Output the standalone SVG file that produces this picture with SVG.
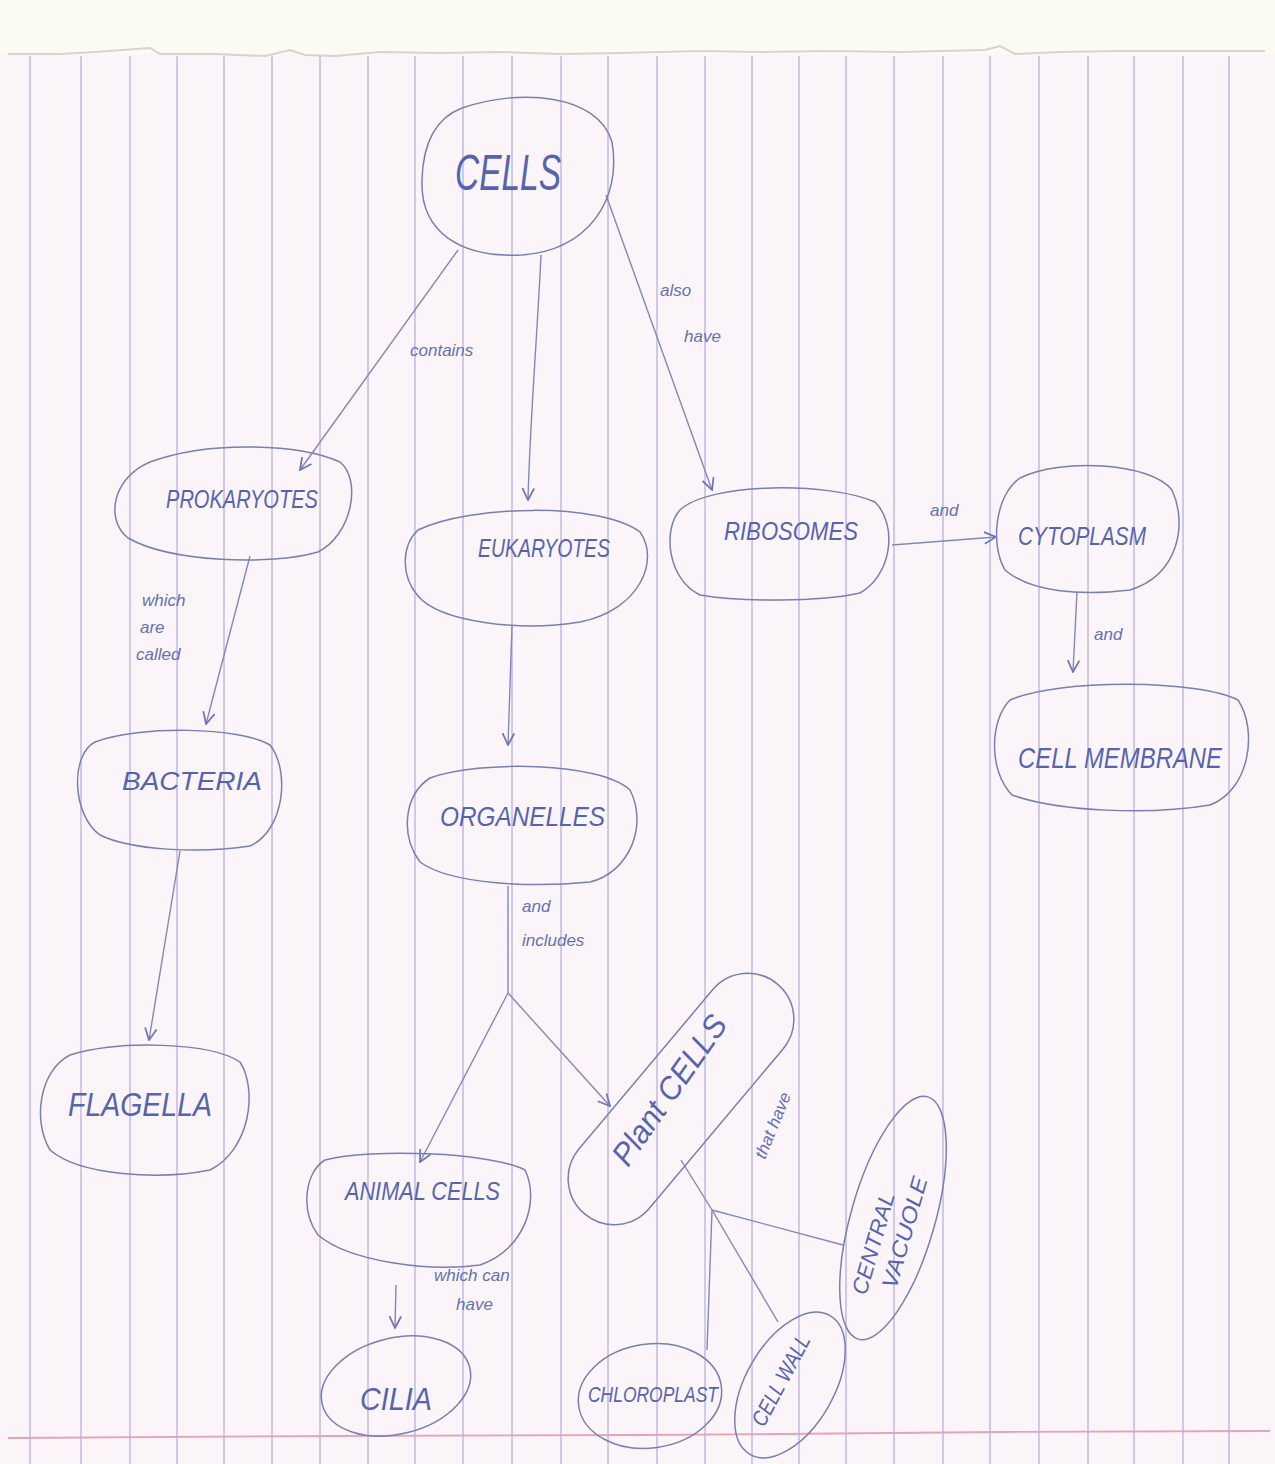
<svg xmlns="http://www.w3.org/2000/svg" width="1275" height="1464" viewBox="0 0 1275 1464">
<defs>
<style>
.paper{fill:#fbf5f9}
.rule{stroke:#bcb5e6;stroke-width:1.4}
.node{fill:none;stroke:#777fb4;stroke-width:1.5}
.lbl{font-family:"Liberation Sans",Arial,sans-serif;font-style:italic;fill:#5664b0;font-size:26px}
.elbl{font-family:"Liberation Sans",Arial,sans-serif;font-style:italic;fill:#6571b4;font-size:17px}
.edge{fill:none;stroke:#8088bd;stroke-width:1.4}
</style>
<marker id="arr" viewBox="0 0 12 12" refX="11" refY="6" markerWidth="14" markerHeight="14" markerUnits="userSpaceOnUse" orient="auto">
<path d="M1,1 L11,6 L1,11" fill="none" stroke="#6d76b4" stroke-width="1.5"/>
</marker>
</defs>

<g id="paper">
<rect width="1275" height="1464" class="paper"/>
<rect width="1275" height="54" fill="#fcfbf1"/>
<path d="M8,54 L60,54 L95,52 L150,48 L160,54 L215,54 L265,56 L290,50 L305,55 L335,56 L380,52 L440,53 L500,52 L560,54 L620,53 L700,51 L760,52 L830,51 L900,52 L985,50 L1000,46 L1015,54 L1060,52 L1120,51 L1200,51 L1265,51" fill="none" stroke="#d7d3cf" stroke-width="2"/>
<g class="rule">
<line x1="30" y1="56" x2="30" y2="1464"/><line x1="81" y1="56" x2="81" y2="1464"/><line x1="130" y1="56" x2="130" y2="1464"/><line x1="177" y1="56" x2="177" y2="1464"/><line x1="224" y1="56" x2="224" y2="1464"/><line x1="272" y1="56" x2="272" y2="1464"/><line x1="320" y1="56" x2="320" y2="1464"/><line x1="368" y1="56" x2="368" y2="1464"/><line x1="415" y1="56" x2="415" y2="1464"/><line x1="463" y1="56" x2="463" y2="1464"/><line x1="512" y1="56" x2="512" y2="1464"/><line x1="561" y1="56" x2="561" y2="1464"/><line x1="608" y1="56" x2="608" y2="1464"/><line x1="657" y1="56" x2="657" y2="1464"/><line x1="705" y1="56" x2="705" y2="1464"/><line x1="752" y1="56" x2="752" y2="1464"/><line x1="799" y1="56" x2="799" y2="1464"/><line x1="846" y1="56" x2="846" y2="1464"/><line x1="894" y1="56" x2="894" y2="1464"/><line x1="943" y1="56" x2="943" y2="1464"/><line x1="990" y1="56" x2="990" y2="1464"/><line x1="1039" y1="56" x2="1039" y2="1464"/><line x1="1088" y1="56" x2="1088" y2="1464"/><line x1="1134" y1="56" x2="1134" y2="1464"/><line x1="1183" y1="56" x2="1183" y2="1464"/><line x1="1229" y1="56" x2="1229" y2="1464"/>
</g>
<path d="M8,1438 L330,1436 L640,1435 L780,1434 L1000,1432 L1270,1431" fill="none" stroke="#e3a3b9" stroke-width="1.8"/>
</g>

<g id="connectors">
<line class="edge" x1="458" y1="250" x2="300" y2="470" marker-end="url(#arr)"/>
<path class="edge" d="M541,255 C537,340 530,420 528,500" marker-end="url(#arr)"/>
<line class="edge" x1="606" y1="195" x2="712" y2="490" marker-end="url(#arr)"/>
<line class="edge" x1="250" y1="556" x2="206" y2="724" marker-end="url(#arr)"/>
<line class="edge" x1="512" y1="626" x2="508" y2="745" marker-end="url(#arr)"/>
<line class="edge" x1="892" y1="545" x2="996" y2="537" marker-end="url(#arr)"/>
<line class="edge" x1="1077" y1="592" x2="1073" y2="672" marker-end="url(#arr)"/>
<line class="edge" x1="180" y1="851" x2="149" y2="1040" marker-end="url(#arr)"/>
<line class="edge" x1="508" y1="886" x2="508" y2="993"/>
<line class="edge" x1="508" y1="993" x2="420" y2="1162" marker-end="url(#arr)"/>
<line class="edge" x1="508" y1="993" x2="610" y2="1106" marker-end="url(#arr)"/>
<line class="edge" x1="396" y1="1285" x2="395" y2="1328" marker-end="url(#arr)"/>
<line class="edge" x1="681" y1="1160" x2="712" y2="1210"/>
<line class="edge" x1="712" y1="1210" x2="707" y2="1350"/>
<line class="edge" x1="712" y1="1210" x2="778" y2="1322"/>
<line class="edge" x1="712" y1="1210" x2="843" y2="1245"/>
<text class="elbl" x="410" y="356">contains</text>
<text class="elbl" x="660" y="296">also</text>
<text class="elbl" x="684" y="342">have</text>
<text class="elbl" x="142" y="606">which</text>
<text class="elbl" x="140" y="633">are</text>
<text class="elbl" x="136" y="660">called</text>
<text class="elbl" x="930" y="516">and</text>
<text class="elbl" x="1094" y="640">and</text>
<text class="elbl" x="522" y="912">and</text>
<text class="elbl" x="522" y="946">includes</text>
<text class="elbl" x="434" y="1281">which can</text>
<text class="elbl" x="456" y="1310">have</text>
<text class="elbl" transform="translate(765,1160) rotate(-68)">that have</text>
</g>

<g id="cells">
<path class="node" d="M462,108 C520,88 598,94 612,142 C622,200 588,250 522,255 C460,258 420,232 422,180 C423,142 436,118 462,108 Z"/>
<text class="lbl" x="455" y="190" style="font-size:50px" textLength="106" lengthAdjust="spacingAndGlyphs">CELLS</text>
</g>
<g id="prokaryotes">
<path class="node" d="M150,462 C210,440 300,444 340,462 C362,480 352,535 318,552 C270,566 170,562 128,538 C105,520 112,478 150,462 Z"/>
<text class="lbl" x="166" y="508" textLength="152" lengthAdjust="spacingAndGlyphs">PROKARYOTES</text>
</g>
<g id="eukaryotes">
<path class="node" d="M418,530 C470,505 600,502 640,532 C660,560 640,610 580,622 C520,632 440,622 418,596 C400,575 402,545 418,530 Z"/>
<text class="lbl" x="478" y="557" textLength="132" lengthAdjust="spacingAndGlyphs">EUKARYOTES</text>
</g>
<g id="ribosomes">
<path class="node" d="M680,510 C710,482 830,482 875,502 C898,525 892,575 860,593 C820,602 740,602 700,595 C668,580 662,530 680,510 Z"/>
<text class="lbl" x="724" y="540" textLength="134" lengthAdjust="spacingAndGlyphs">RIBOSOMES</text>
</g>
<g id="cytoplasm">
<path class="node" d="M1020,478 C1060,458 1150,462 1172,490 C1188,525 1178,575 1130,590 C1080,596 1030,592 1005,570 C990,545 995,495 1020,478 Z"/>
<text class="lbl" x="1018" y="545" textLength="128" lengthAdjust="spacingAndGlyphs">CYTOPLASM</text>
</g>
<g id="cell-membrane">
<path class="node" d="M1010,700 C1060,678 1200,680 1238,700 C1258,730 1250,790 1210,805 C1150,815 1060,812 1012,795 C988,770 990,720 1010,700 Z"/>
<text class="lbl" x="1018" y="768" style="font-size:30px" textLength="204" lengthAdjust="spacingAndGlyphs">CELL MEMBRANE</text>
</g>
<g id="bacteria">
<path class="node" d="M95,742 C140,725 240,727 270,745 C290,770 285,830 250,846 C200,854 130,850 100,835 C72,815 70,755 95,742 Z"/>
<text class="lbl" x="122" y="790" textLength="140" lengthAdjust="spacingAndGlyphs">BACTERIA</text>
</g>
<g id="organelles">
<path class="node" d="M430,778 C480,760 600,762 630,790 C648,825 630,872 590,882 C530,888 450,884 420,862 C400,835 404,795 430,778 Z"/>
<text class="lbl" x="440" y="826" style="font-size:28px" textLength="165" lengthAdjust="spacingAndGlyphs">ORGANELLES</text>
</g>
<g id="flagella">
<path class="node" d="M70,1055 C120,1040 210,1042 240,1062 C258,1090 250,1150 210,1170 C160,1180 80,1176 50,1150 C32,1120 40,1070 70,1055 Z"/>
<text class="lbl" x="68" y="1116" style="font-size:34px" textLength="144" lengthAdjust="spacingAndGlyphs">FLAGELLA</text>
</g>
<g id="animal-cells">
<path class="node" d="M325,1160 C370,1148 490,1152 525,1170 C540,1200 525,1250 480,1265 C430,1272 350,1262 318,1235 C300,1210 305,1172 325,1160 Z"/>
<text class="lbl" x="345" y="1200" textLength="155" lengthAdjust="spacingAndGlyphs">ANIMAL CELLS</text>
</g>
<g id="plant-cells">
<rect class="node" x="-150" y="-46" width="300" height="92" rx="46" transform="translate(681,1099) rotate(-50)"/>
<text class="lbl" transform="translate(628,1168) rotate(-55)" style="font-size:32px" textLength="175" lengthAdjust="spacingAndGlyphs">Plant CELLS</text>
</g>
<g id="cilia">
<ellipse class="node" cx="396" cy="1386" rx="76" ry="48" transform="rotate(-14 396 1386)"/>
<text class="lbl" x="360" y="1410" style="font-size:32px" textLength="72" lengthAdjust="spacingAndGlyphs">CILIA</text>
</g>
<g id="chloroplast">
<ellipse class="node" cx="650" cy="1396" rx="72" ry="52" transform="rotate(-8 650 1396)"/>
<text class="lbl" x="588" y="1402" style="font-size:22px" textLength="130" lengthAdjust="spacingAndGlyphs">CHLOROPLAST</text>
</g>
<g id="cell-wall">
<ellipse class="node" cx="790" cy="1385" rx="80" ry="44" transform="rotate(-60 790 1385)"/>
<text class="lbl" transform="translate(764,1428) rotate(-62)" style="font-size:22px" textLength="100" lengthAdjust="spacingAndGlyphs">CELL WALL</text>
</g>
<g id="central-vacuole">
<ellipse class="node" cx="893" cy="1218" rx="126" ry="42" transform="rotate(-74 893 1218)"/>
<text class="lbl" transform="translate(866,1296) rotate(-74)" style="font-size:22px" textLength="105" lengthAdjust="spacingAndGlyphs">CENTRAL</text>
<text class="lbl" transform="translate(896,1290) rotate(-74)" style="font-size:22px" textLength="115" lengthAdjust="spacingAndGlyphs">VACUOLE</text>
</g>
</svg>
